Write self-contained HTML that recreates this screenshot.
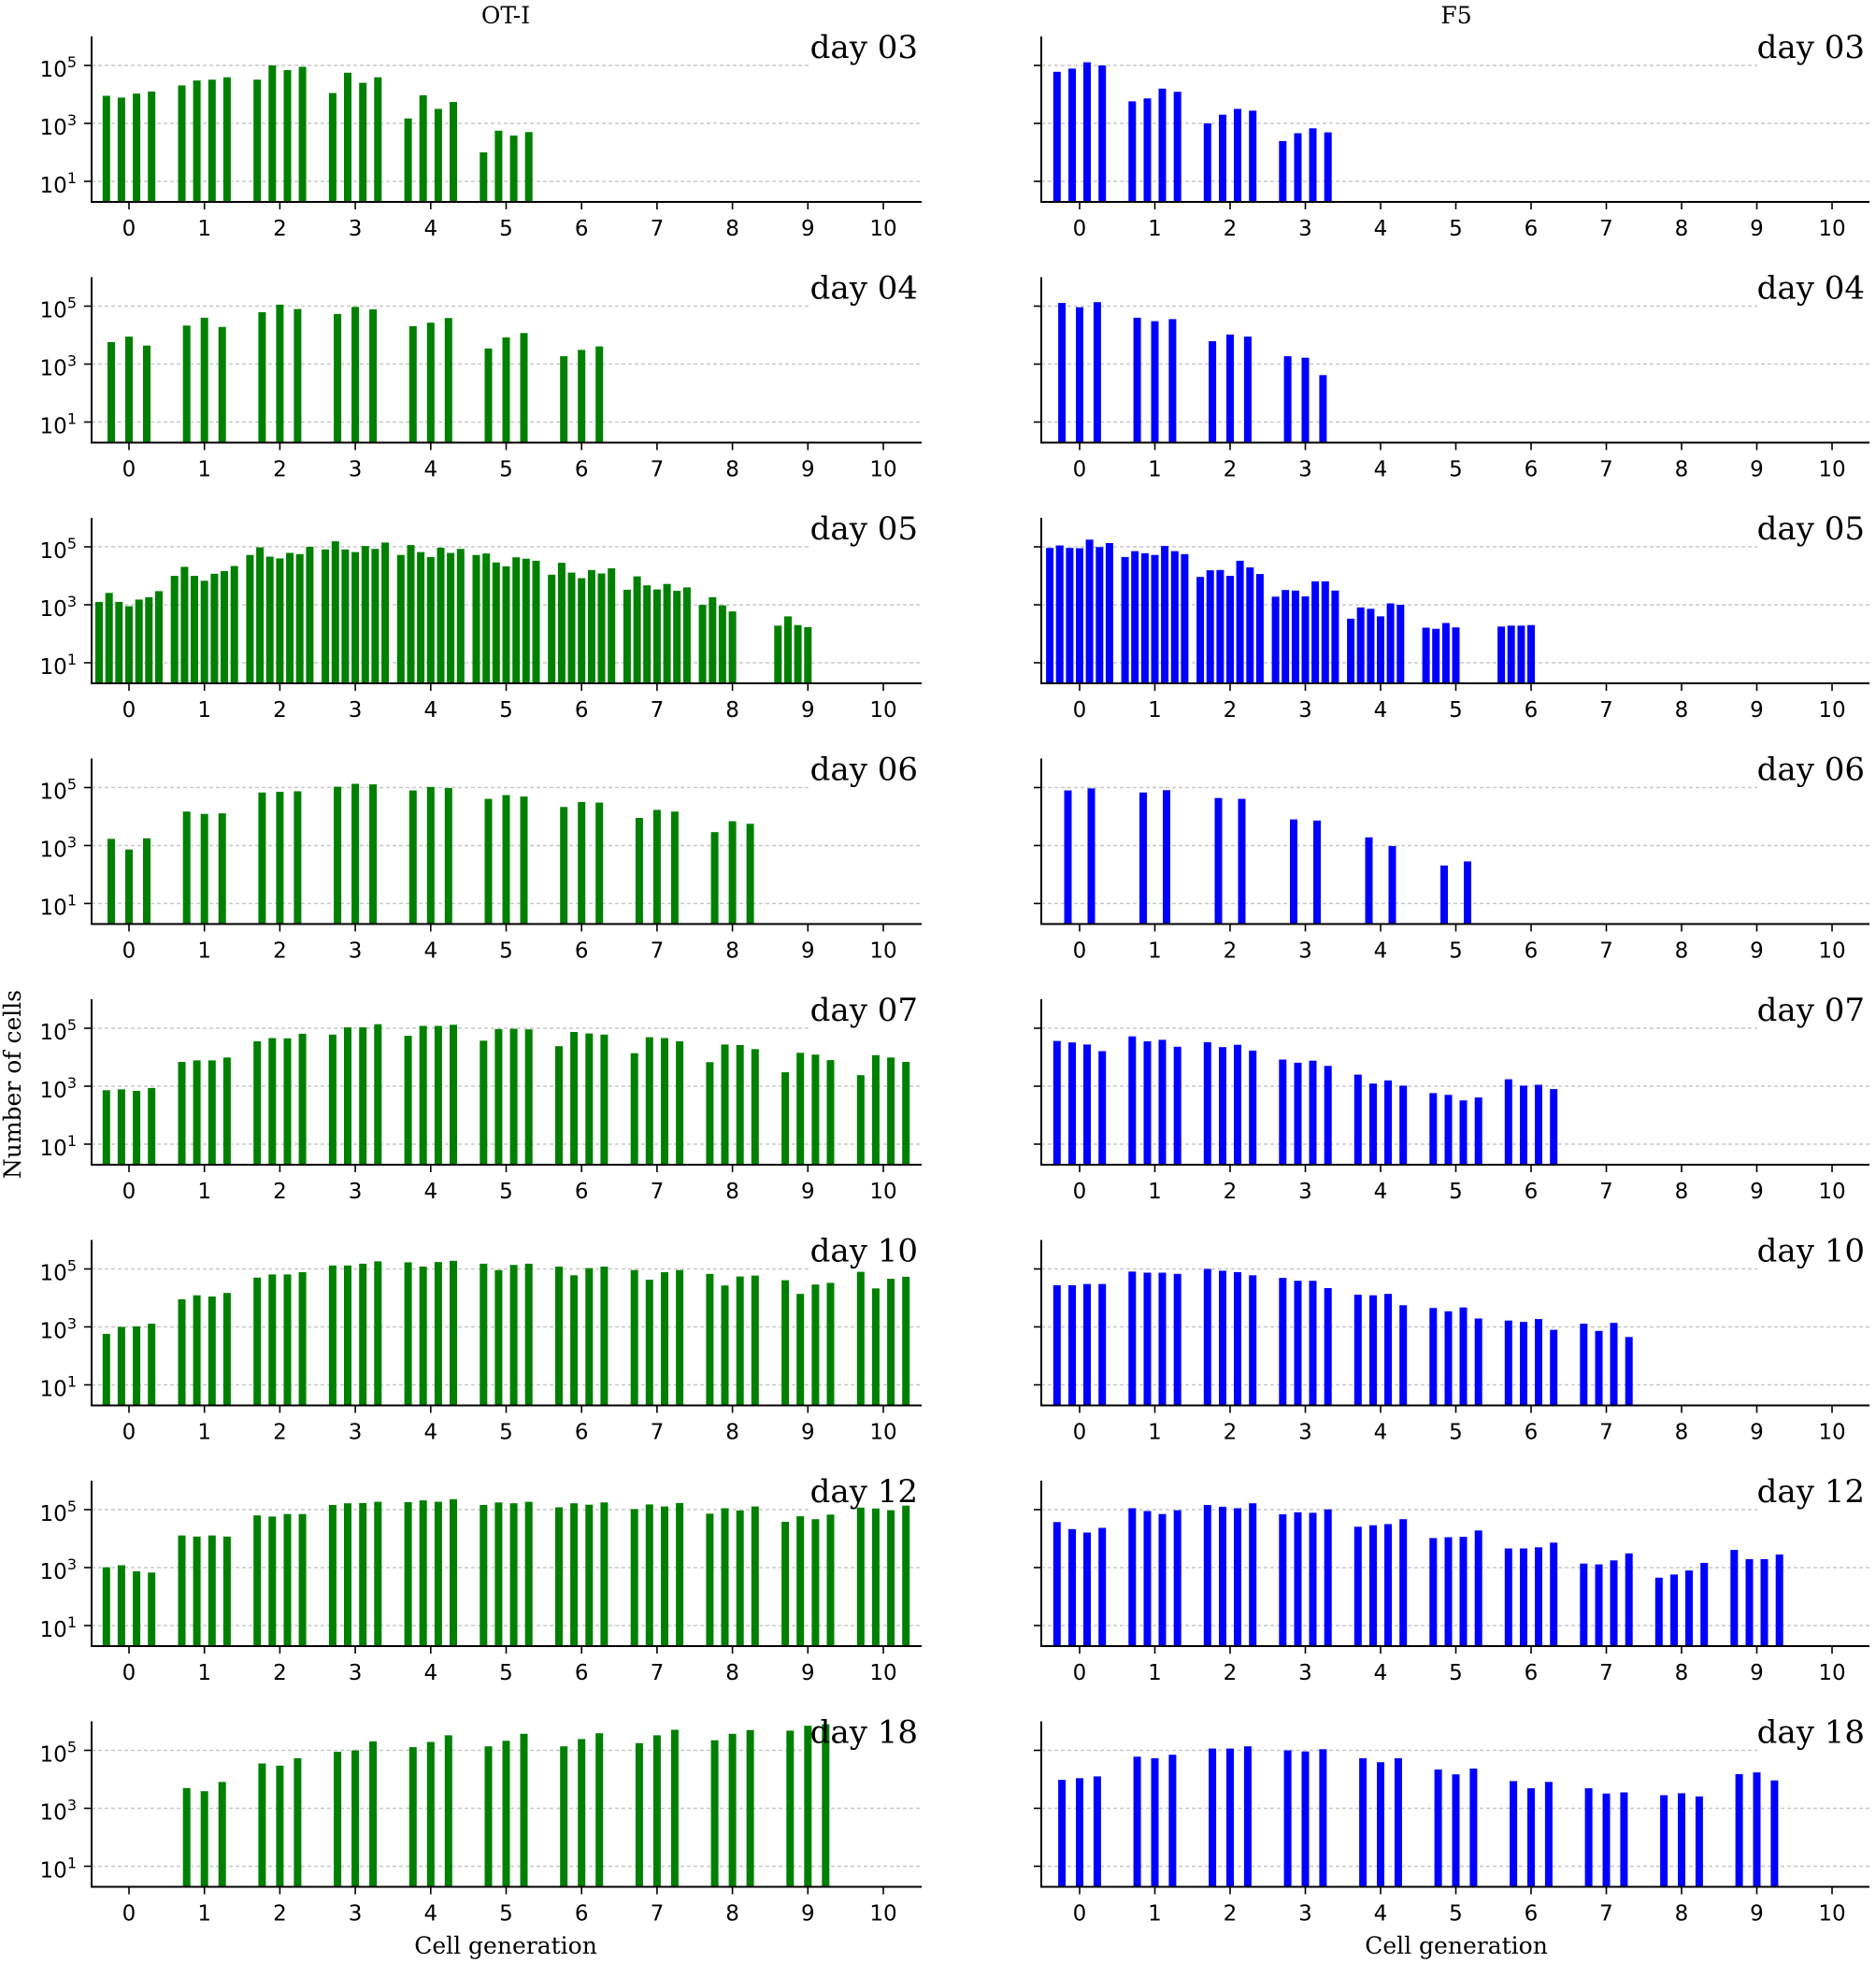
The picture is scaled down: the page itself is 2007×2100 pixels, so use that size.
<!DOCTYPE html>
<html><head><meta charset="utf-8"><style>
html,body{margin:0;padding:0;background:#fff;}
svg{display:block}
.t{font-family:"DejaVu Sans",sans-serif;font-size:23px;text-anchor:middle;fill:#000}
.y{font-family:"DejaVu Sans",sans-serif;font-size:23px;text-anchor:end;fill:#000}
.d{font-family:"DejaVu Serif",serif;font-size:34px;text-anchor:end;fill:#000}
.h{font-family:"DejaVu Serif",serif;font-size:25px;text-anchor:middle;fill:#000}
</style></head><body>
<svg id="s" width="2007" height="2100" viewBox="0 0 2007 2100" xmlns="http://www.w3.org/2000/svg">
<g id="plot"></g>
<text class="h" x="541" y="25">OT-I</text>
<text class="h" x="1558" y="25">F5</text>
<text class="h" x="541" y="2090">Cell generation</text>
<text class="h" x="1558" y="2090">Cell generation</text>
<text class="h" transform="translate(22,1160) rotate(-90)">Number of cells</text>
<g transform="translate(0,216)"><text class="t" x="138 218.7 299.4 380.1 460.8 541.5 622.2 702.9 783.6 864.3 945" y="36">012345678910</text><text class="t" x="1155 1235.5 1316 1396.5 1477 1557.5 1638 1718.5 1799 1879.5 1960" y="36">012345678910</text><text class="d" x="982" y="-154">day 03</text><text class="d" x="1995" y="-154">day 03</text><text class="y" x="82" y="-134">10<tspan dy="-10" font-size="16">5</tspan></text><text class="y" x="82" y="-72">10<tspan dy="-10" font-size="16">3</tspan></text><text class="y" x="82" y="-10">10<tspan dy="-10" font-size="16">1</tspan></text></g>
<g transform="translate(0,473.5)"><text class="t" x="138 218.7 299.4 380.1 460.8 541.5 622.2 702.9 783.6 864.3 945" y="36">012345678910</text><text class="t" x="1155 1235.5 1316 1396.5 1477 1557.5 1638 1718.5 1799 1879.5 1960" y="36">012345678910</text><text class="d" x="982" y="-154">day 04</text><text class="d" x="1995" y="-154">day 04</text><text class="y" x="82" y="-134">10<tspan dy="-10" font-size="16">5</tspan></text><text class="y" x="82" y="-72">10<tspan dy="-10" font-size="16">3</tspan></text><text class="y" x="82" y="-10">10<tspan dy="-10" font-size="16">1</tspan></text></g>
<g transform="translate(0,731)"><text class="t" x="138 218.7 299.4 380.1 460.8 541.5 622.2 702.9 783.6 864.3 945" y="36">012345678910</text><text class="t" x="1155 1235.5 1316 1396.5 1477 1557.5 1638 1718.5 1799 1879.5 1960" y="36">012345678910</text><text class="d" x="982" y="-154">day 05</text><text class="d" x="1995" y="-154">day 05</text><text class="y" x="82" y="-134">10<tspan dy="-10" font-size="16">5</tspan></text><text class="y" x="82" y="-72">10<tspan dy="-10" font-size="16">3</tspan></text><text class="y" x="82" y="-10">10<tspan dy="-10" font-size="16">1</tspan></text></g>
<g transform="translate(0,988.5)"><text class="t" x="138 218.7 299.4 380.1 460.8 541.5 622.2 702.9 783.6 864.3 945" y="36">012345678910</text><text class="t" x="1155 1235.5 1316 1396.5 1477 1557.5 1638 1718.5 1799 1879.5 1960" y="36">012345678910</text><text class="d" x="982" y="-154">day 06</text><text class="d" x="1995" y="-154">day 06</text><text class="y" x="82" y="-134">10<tspan dy="-10" font-size="16">5</tspan></text><text class="y" x="82" y="-72">10<tspan dy="-10" font-size="16">3</tspan></text><text class="y" x="82" y="-10">10<tspan dy="-10" font-size="16">1</tspan></text></g>
<g transform="translate(0,1246)"><text class="t" x="138 218.7 299.4 380.1 460.8 541.5 622.2 702.9 783.6 864.3 945" y="36">012345678910</text><text class="t" x="1155 1235.5 1316 1396.5 1477 1557.5 1638 1718.5 1799 1879.5 1960" y="36">012345678910</text><text class="d" x="982" y="-154">day 07</text><text class="d" x="1995" y="-154">day 07</text><text class="y" x="82" y="-134">10<tspan dy="-10" font-size="16">5</tspan></text><text class="y" x="82" y="-72">10<tspan dy="-10" font-size="16">3</tspan></text><text class="y" x="82" y="-10">10<tspan dy="-10" font-size="16">1</tspan></text></g>
<g transform="translate(0,1503.5)"><text class="t" x="138 218.7 299.4 380.1 460.8 541.5 622.2 702.9 783.6 864.3 945" y="36">012345678910</text><text class="t" x="1155 1235.5 1316 1396.5 1477 1557.5 1638 1718.5 1799 1879.5 1960" y="36">012345678910</text><text class="d" x="982" y="-154">day 10</text><text class="d" x="1995" y="-154">day 10</text><text class="y" x="82" y="-134">10<tspan dy="-10" font-size="16">5</tspan></text><text class="y" x="82" y="-72">10<tspan dy="-10" font-size="16">3</tspan></text><text class="y" x="82" y="-10">10<tspan dy="-10" font-size="16">1</tspan></text></g>
<g transform="translate(0,1761)"><text class="t" x="138 218.7 299.4 380.1 460.8 541.5 622.2 702.9 783.6 864.3 945" y="36">012345678910</text><text class="t" x="1155 1235.5 1316 1396.5 1477 1557.5 1638 1718.5 1799 1879.5 1960" y="36">012345678910</text><text class="d" x="982" y="-154">day 12</text><text class="d" x="1995" y="-154">day 12</text><text class="y" x="82" y="-134">10<tspan dy="-10" font-size="16">5</tspan></text><text class="y" x="82" y="-72">10<tspan dy="-10" font-size="16">3</tspan></text><text class="y" x="82" y="-10">10<tspan dy="-10" font-size="16">1</tspan></text></g>
<g transform="translate(0,2018.5)"><text class="t" x="138 218.7 299.4 380.1 460.8 541.5 622.2 702.9 783.6 864.3 945" y="36">012345678910</text><text class="t" x="1155 1235.5 1316 1396.5 1477 1557.5 1638 1718.5 1799 1879.5 1960" y="36">012345678910</text><text class="d" x="982" y="-154">day 18</text><text class="d" x="1995" y="-154">day 18</text><text class="y" x="82" y="-134">10<tspan dy="-10" font-size="16">5</tspan></text><text class="y" x="82" y="-72">10<tspan dy="-10" font-size="16">3</tspan></text><text class="y" x="82" y="-10">10<tspan dy="-10" font-size="16">1</tspan></text></g>
</svg>
<script>
var n=null;
var L=[
[[3.95,3.89,4.03,4.1],[4.31,4.48,4.51,4.59],[4.51,5.0,4.84,4.95],[4.05,4.75,4.40,4.59],[3.17,3.97,3.50,3.74],[2.0,2.75,2.58,2.70]],
[[3.76,3.95,3.64],[4.33,4.6,4.28],[4.79,5.05,4.9],[4.73,4.97,4.89],[4.31,4.43,4.59],[3.54,3.92,4.07],[3.27,3.49,3.61]],
[[3.1,3.41,3.1,2.95,3.18,3.26,3.47],[4.0,4.31,4.0,3.83,4.07,4.16,4.34],[4.72,4.98,4.66,4.6,4.79,4.75,5.0],[4.91,5.19,4.91,4.82,5.03,4.93,5.15],[4.72,5.06,4.82,4.65,4.97,4.79,4.93],[4.72,4.77,4.46,4.33,4.64,4.59,4.52],[4.04,4.45,4.11,3.92,4.2,4.08,4.26],[3.52,3.98,3.67,3.53,3.72,3.48,3.6],[3.0,3.26,2.98,2.77,n,n,n],[2.28,2.6,2.3,2.23,n,n,n]],
[[3.23,2.86,3.25],[4.17,4.09,4.11],[4.83,4.85,4.87],[5.03,5.13,5.11],[4.9,5.02,4.98],[4.61,4.74,4.69],[4.33,4.5,4.48],[3.95,4.23,4.17],[3.46,3.84,3.75]],
[[2.86,2.89,2.84,2.94],[3.84,3.89,3.89,3.99],[4.55,4.66,4.65,4.81],[4.78,5.03,5.03,5.14],[4.74,5.08,5.08,5.12],[4.57,4.97,4.98,4.96],[4.38,4.87,4.82,4.78],[4.14,4.69,4.66,4.55],[3.83,4.44,4.42,4.28],[3.48,4.15,4.09,3.9],[3.38,4.07,3.99,3.84]],
[[2.76,3.0,3.02,3.11],[3.95,4.09,4.05,4.17],[4.7,4.81,4.81,4.89],[5.12,5.12,5.18,5.26],[5.23,5.08,5.24,5.28],[5.18,4.96,5.14,5.18],[5.08,4.78,5.03,5.08],[4.96,4.63,4.89,4.96],[4.83,4.43,4.74,4.77],[4.61,4.14,4.46,4.52],[4.9,4.33,4.66,4.73]],
[[3.01,3.08,2.87,2.83],[4.11,4.07,4.11,4.07],[4.8,4.76,4.85,4.85],[5.16,5.22,5.23,5.27],[5.26,5.32,5.27,5.36],[5.16,5.25,5.22,5.27],[5.08,5.22,5.17,5.25],[5.02,5.18,5.11,5.23],[4.86,5.05,4.97,5.11],[4.58,4.77,4.67,4.83],[5.07,5.04,4.98,5.14]],
[[n,n,n],[3.7,3.59,3.91],[4.55,4.47,4.73],[4.95,5.0,5.31],[5.11,5.29,5.52],[5.14,5.33,5.57],[5.14,5.39,5.59],[5.25,5.52,5.71],[5.35,5.57,5.7],[5.68,5.85,5.9]]
];
var R=[
[[4.78,4.89,5.11,5.0],[3.76,3.86,4.2,4.09],[3.0,3.3,3.5,3.44],[2.39,2.66,2.83,2.69]],
[[5.11,4.96,5.14],[4.6,4.48,4.55],[3.79,4.02,3.95],[3.27,3.22,2.62]],
[[4.96,5.05,4.96,4.95,5.25,4.99,5.13],[4.65,4.85,4.78,4.72,5.03,4.85,4.75],[3.96,4.19,4.2,4.0,4.52,4.29,4.06],[3.28,3.51,3.49,3.29,3.81,3.81,3.49],[2.52,2.91,2.86,2.6,3.05,3.0,n],[2.21,2.17,2.37,2.22,n,n,n],[2.25,2.28,2.28,2.3,n,n,n]],
[[4.9,4.97],[4.83,4.91],[4.64,4.61],[3.9,3.86],[3.28,2.98],[2.31,2.45]],
[[4.56,4.51,4.44,4.21],[4.72,4.55,4.6,4.36],[4.52,4.35,4.43,4.23],[3.92,3.81,3.88,3.7],[3.4,3.09,3.2,3.02],[2.76,2.7,2.51,2.61],[3.24,3.02,3.05,2.9]],
[[4.44,4.44,4.48,4.48],[4.91,4.87,4.87,4.83],[5.0,4.94,4.89,4.78],[4.69,4.59,4.59,4.34],[4.11,4.09,4.14,3.75],[3.65,3.54,3.67,3.29],[3.22,3.17,3.27,2.9],[3.11,2.86,3.14,2.65]],
[[4.57,4.33,4.21,4.37],[5.05,4.95,4.85,4.98],[5.16,5.1,5.05,5.22],[4.84,4.91,4.89,5.01],[4.41,4.46,4.5,4.67],[4.02,4.05,4.06,4.28],[3.66,3.66,3.7,3.86],[3.14,3.11,3.25,3.49],[2.65,2.76,2.9,3.16],[3.61,3.29,3.29,3.45]],
[[3.98,4.04,4.1],[4.78,4.73,4.85],[5.06,5.06,5.14],[5.0,4.96,5.04],[4.73,4.59,4.73],[4.34,4.17,4.37],[3.94,3.69,3.91],[3.69,3.51,3.55],[3.45,3.52,3.41],[4.18,4.24,3.96]]
];
var OFF={2:[-0.155,0.155],3:[-0.235,0,0.235],4:[-0.3,-0.1,0.1,0.3],7:[-0.396,-0.264,-0.132,0,0.132,0.264,0.396]};
var h='';
function panel(data,base,x0,x1,g0,sp,col,left,xg){
  var y=function(v){return base-22-(v-1)*31;};
  [5,3,1].forEach(function(e){var yy=y(e);var xe=(e==5)?xg:x1;
    h+='<line x1="'+x0+'" x2="'+xe+'" y1="'+yy+'" y2="'+yy+'" stroke="#c8c8c8" stroke-width="1.5" stroke-dasharray="4,3"/>';
    h+='<line x1="'+(x0-8)+'" x2="'+x0+'" y1="'+yy+'" y2="'+yy+'" stroke="#000" stroke-width="1.6"/>';});
  data.forEach(function(gr,g){var o=OFF[gr.length];gr.forEach(function(v,k){if(v===null)return;
    var cx=g0+sp*(g+o[k]);var t=y(v);
    h+='<rect x="'+(cx-4).toFixed(1)+'" y="'+t.toFixed(1)+'" width="8" height="'+(base-t).toFixed(1)+'" fill="'+col+'"/>';});});
  for(var g=0;g<=10;g++){var xx=g0+sp*g;h+='<line x1="'+xx+'" x2="'+xx+'" y1="'+base+'" y2="'+(base+8)+'" stroke="#000" stroke-width="1.6"/>';}
  h+='<line x1="'+x0+'" x2="'+x0+'" y1="'+(base-177)+'" y2="'+base+'" stroke="#000" stroke-width="2"/>';
  h+='<line x1="'+(x0-1)+'" x2="'+x1+'" y1="'+base+'" y2="'+base+'" stroke="#000" stroke-width="2"/>';
}
for(var r=0;r<8;r++){var b=216+257.5*r;
  panel(L[r],b,98,986,138,80.7,'#008000',true,866);
  panel(R[r],b,1114,2000,1155,80.5,'#0000ff',false,1880);}
document.getElementById('plot').innerHTML=h;
</script>
</body></html>
